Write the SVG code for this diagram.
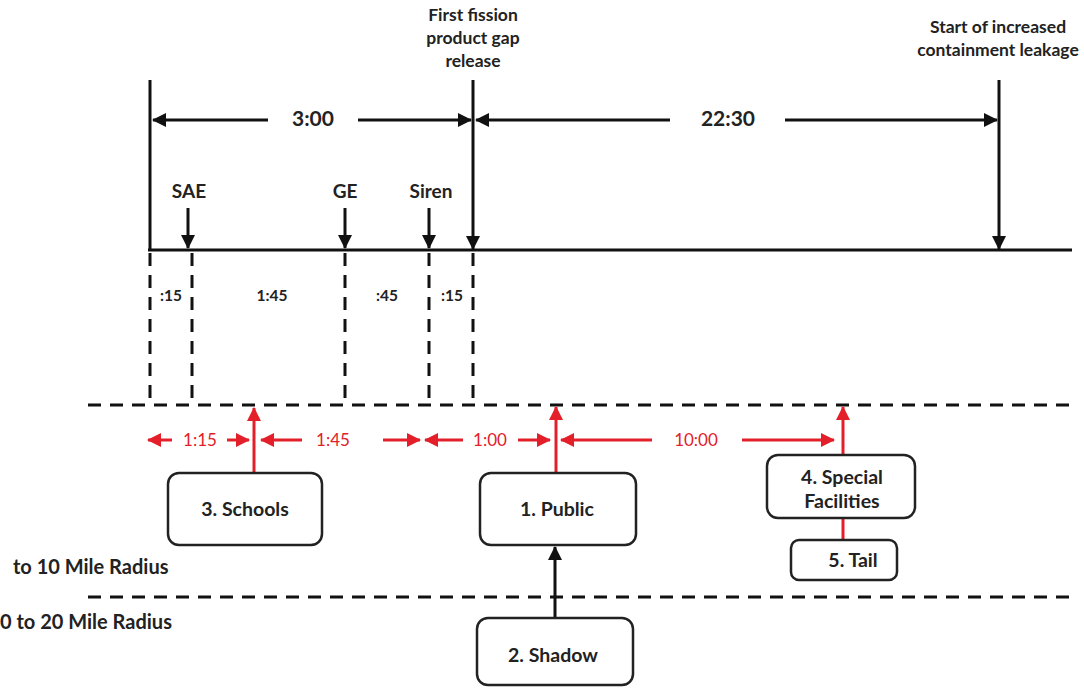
<svg xmlns="http://www.w3.org/2000/svg" width="1084" height="688" viewBox="0 0 1084 688">
<defs>
<marker id="ab" markerUnits="userSpaceOnUse" markerWidth="16" markerHeight="16" refX="13" refY="8" orient="auto"><path d="M0,1 L14,8 L0,15 Z" fill="#111"/></marker>
<marker id="ar" markerUnits="userSpaceOnUse" markerWidth="16" markerHeight="16" refX="13" refY="8" orient="auto"><path d="M0,1 L14,8 L0,15 Z" fill="#e3202a"/></marker>
</defs>
<style>
text{font-family:Lato,"Open Sans","Liberation Sans",sans-serif;font-weight:bold;fill:#222}
.blk{stroke:#111;stroke-width:3;fill:none}
.dash{stroke:#111;stroke-width:3;fill:none;stroke-dasharray:13 9}
.red{stroke:#e3202a;stroke-width:3;fill:none}
.box{fill:#fff;stroke:#222;stroke-width:2.5}
.rt{fill:#e3202a;font-size:17px;font-weight:normal}
.nt{font-size:19.5px}
.tt{font-size:17.5px}
.it{font-size:15.5px}
</style>
<g id="timeline">
<line class="blk" x1="150" y1="80" x2="150" y2="251"/>
<line class="blk" x1="148" y1="250" x2="1072" y2="250"/>
<line class="blk" x1="473" y1="80" x2="473" y2="249" marker-end="url(#ab)"/>
<line class="blk" x1="999" y1="80" x2="999" y2="249" marker-end="url(#ab)"/>
<line class="blk" x1="268" y1="120" x2="153" y2="120" marker-end="url(#ab)"/>
<line class="blk" x1="358" y1="120" x2="471" y2="120" marker-end="url(#ab)"/>
<line class="blk" x1="670" y1="120" x2="476" y2="120" marker-end="url(#ab)"/>
<line class="blk" x1="785" y1="120" x2="997" y2="120" marker-end="url(#ab)"/>
<line class="blk" x1="188" y1="208" x2="188" y2="248" marker-end="url(#ab)"/>
<line class="blk" x1="345" y1="208" x2="345" y2="248" marker-end="url(#ab)"/>
<line class="blk" x1="429" y1="208" x2="429" y2="248" marker-end="url(#ab)"/>
<text x="313" y="126" text-anchor="middle" font-size="21" font-weight="normal">3:00</text>
<text x="728" y="126" text-anchor="middle" font-size="21" font-weight="normal">22:30</text>
<text x="189" y="198" text-anchor="middle" font-size="19" font-weight="normal">SAE</text>
<text x="345" y="198" text-anchor="middle" font-size="19" font-weight="normal">GE</text>
<text x="431" y="198" text-anchor="middle" font-size="19" font-weight="normal">Siren</text>
<text class="tt" x="473" y="21" text-anchor="middle">First fission</text>
<text class="tt" x="473" y="44" text-anchor="middle">product gap</text>
<text class="tt" x="473" y="67" text-anchor="middle">release</text>
<text class="tt" x="998" y="33" text-anchor="middle">Start of increased</text>
<text class="tt" x="998" y="56" text-anchor="middle">containment leakage</text>
</g>
<g id="intervals">
<line class="dash" x1="150" y1="253" x2="150" y2="405"/>
<line class="dash" x1="192" y1="253" x2="192" y2="405"/>
<line class="dash" x1="345" y1="253" x2="345" y2="405"/>
<line class="dash" x1="429" y1="253" x2="429" y2="405"/>
<line class="dash" x1="473" y1="253" x2="473" y2="405"/>
<line class="dash" x1="88" y1="405" x2="1078" y2="405"/>
<line class="dash" x1="88" y1="597" x2="1078" y2="597"/>
<text class="it" x="171" y="301" text-anchor="middle">:15</text>
<text class="it" x="272" y="301" text-anchor="middle">1:45</text>
<text class="it" x="387" y="301" text-anchor="middle">:45</text>
<text class="it" x="452" y="301" text-anchor="middle">:15</text>
<text x="13" y="574" font-size="20">to 10 Mile Radius</text>
<text x="0" y="629" font-size="20">0 to 20 Mile Radius</text>
</g>
<g id="connectors">
<line class="red" x1="172" y1="440" x2="148" y2="440" marker-end="url(#ar)"/>
<line class="red" x1="227" y1="440" x2="249" y2="440" marker-end="url(#ar)"/>
<line class="red" x1="302" y1="440" x2="261" y2="440" marker-end="url(#ar)"/>
<line class="red" x1="383" y1="440" x2="420" y2="440" marker-end="url(#ar)"/>
<line class="red" x1="463" y1="440" x2="425" y2="440" marker-end="url(#ar)"/>
<line class="red" x1="518" y1="440" x2="550" y2="440" marker-end="url(#ar)"/>
<line class="red" x1="652" y1="440" x2="561" y2="440" marker-end="url(#ar)"/>
<line class="red" x1="742" y1="440" x2="834" y2="440" marker-end="url(#ar)"/>
<line class="red" x1="254" y1="473" x2="254" y2="408" marker-end="url(#ar)"/>
<line class="red" x1="556" y1="473" x2="556" y2="407" marker-end="url(#ar)"/>
<line class="red" x1="843" y1="456" x2="843" y2="407" marker-end="url(#ar)"/>
<line class="red" x1="843" y1="518" x2="843" y2="540"/>
<line class="blk" x1="555" y1="618" x2="555" y2="547" marker-end="url(#ab)"/>
<text class="rt" x="200" y="446" text-anchor="middle">1:15</text>
<text class="rt" x="333" y="446" text-anchor="middle">1:45</text>
<text class="rt" x="490" y="446" text-anchor="middle">1:00</text>
<text class="rt" x="696" y="446" text-anchor="middle">10:00</text>
</g>
<g id="schools">
<rect class="box" x="168" y="473" width="154" height="72" rx="11"/>
<text class="nt" x="245" y="516" text-anchor="middle">3. Schools</text>
</g>
<g id="public">
<rect class="box" x="480" y="473" width="156" height="72" rx="11"/>
<text class="nt" x="557" y="516" text-anchor="middle" font-weight="normal" font-size="21">1. Public</text>
</g>
<g id="special">
<rect class="box" x="767" y="455" width="148" height="63" rx="11"/>
<text class="nt" x="842" y="484" text-anchor="middle">4. Special</text>
<text class="nt" x="842" y="508" text-anchor="middle">Facilities</text>
</g>
<g id="tail">
<rect class="box" x="791" y="540" width="106" height="40" rx="8"/>
<text class="nt" x="853" y="567" text-anchor="middle">5. Tail</text>
</g>
<g id="shadow">
<rect class="box" x="477" y="618" width="156" height="67" rx="11"/>
<text class="nt" x="553" y="662" text-anchor="middle" font-weight="normal" font-size="21">2. Shadow</text>
</g>
</svg>
